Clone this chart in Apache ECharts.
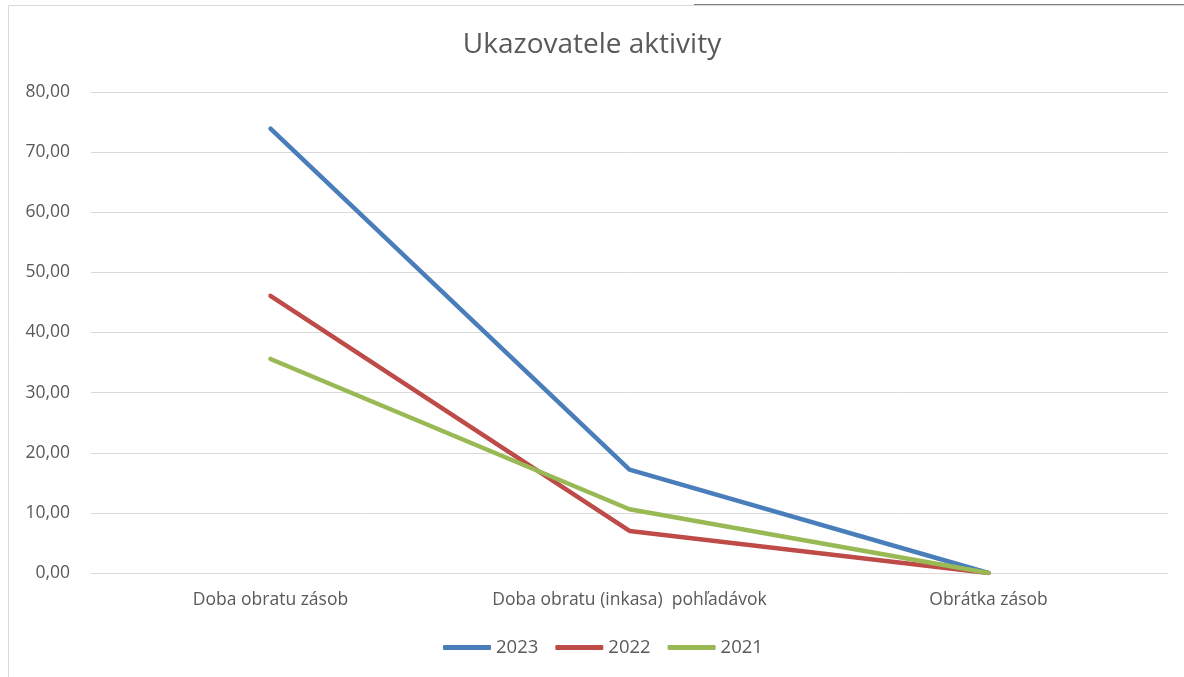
<!DOCTYPE html>
<html lang="sk">
<head>
    <meta charset="utf-8">
    <title>Ukazovatele aktivity</title>
    <script src="https://cdn.jsdelivr.net/npm/echarts@6/dist/echarts.min.js"></script>
    <style>
        html, body { margin: 0; padding: 0; background: #fff; }
        #chart { width: 1184px; height: 677px; }
    </style>
</head>
<body>
<div id="chart"></div>
<script type="text/javascript">
    // kategórie a hodnoty (odčítané z grafu)
    var categories = ['Doba obratu zásob', 'Doba obratu (inkasa)  pohľadávok', 'Obrátka zásob'];
    var years = ['2023', '2022', '2021'];
    var values2023 = [73.9, 17.2, 0.0];
    var values2022 = [46.1, 7.0, 0.0];
    var values2021 = [35.6, 10.6, 0.0];
    var colors = ['#4a7ebb', '#be4b48', '#98b954'];

    var fontFam = '"Open Sans", "Noto Sans", sans-serif';
    var myChart = echarts.init(document.getElementById('chart'));

    var option = {
        animation: false,
        color: colors,
        title: {
            text: 'Ukazovatele aktivity',
            left: 'center',
            top: 26,
            textStyle: {
                color: '#595959',
                fontSize: 28,
                fontWeight: 'normal',
                fontFamily: fontFam
            }
        },
        legend: {
            bottom: 15,
            left: 438,
            itemWidth: 48,
            itemHeight: 5,
            itemGap: 17,
            icon: 'roundRect',
            textStyle: { color: '#595959', fontSize: 18.5, fontFamily: fontFam },
            data: years
        },
        grid: { left: 91, right: 16, top: 92, bottom: 104, containLabel: false },
        xAxis: {
            type: 'category',
            data: categories,
            boundaryGap: true,
            axisLine: { show: false },
            axisTick: { show: false },
            axisLabel: { color: '#595959', fontSize: 17.5, fontFamily: fontFam, margin: 18, interval: 0 }
        },
        yAxis: {
            type: 'value',
            min: 0,
            max: 80,
            interval: 10,
            axisLine: { show: false },
            axisTick: { show: false },
            splitLine: { lineStyle: { color: '#d9d9d9', width: 1 } },
            axisLabel: {
                color: '#595959',
                fontSize: 17.5,
                fontFamily: fontFam,
                margin: 21,
                formatter: function (v) { return v.toFixed(2).replace('.', ','); }
            }
        },
        graphic: [
            {
                type: 'rect',
                shape: { x: 8.5, y: 5.5, width: 1300, height: 800 },
                style: { fill: 'none', stroke: '#d9d9d9', lineWidth: 1 },
                silent: true
            },
            {
                type: 'line',
                shape: { x1: 694, y1: 4.5, x2: 1184, y2: 4.5 },
                style: { stroke: '#7f7f7f', lineWidth: 1 },
                silent: true
            }
        ],
        series: [
            { name: years[0], type: 'line', data: values2023, showSymbol: false, lineStyle: { width: 4.5, cap: 'round' } },
            { name: years[1], type: 'line', data: values2022, showSymbol: false, lineStyle: { width: 4.5, cap: 'round' } },
            { name: years[2], type: 'line', data: values2021, showSymbol: false, lineStyle: { width: 4.5, cap: 'round' } }
        ]
    };
    myChart.setOption(option);
</script>
</body>
</html>
